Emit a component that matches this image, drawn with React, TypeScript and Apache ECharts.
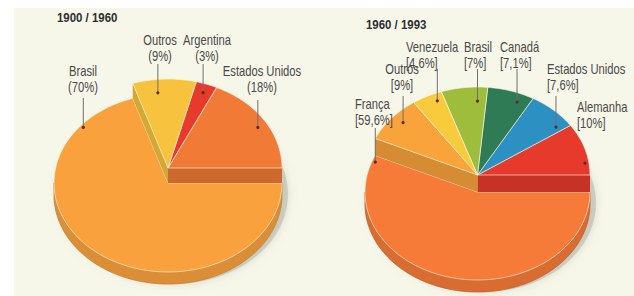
import React, { useEffect, useRef } from 'react';
import * as echarts from 'echarts';

// ---- data ----
const titles = ['1900 / 1960', '1960 / 1993'];

const leftCategories = ['Estados Unidos', 'Argentina', 'Outros', 'Brasil'];
const leftValues = [18, 3, 9, 70];
const leftBase = 'Brasil';

const rightCategories = ['Alemanha', 'Estados Unidos', 'Canadá', 'Brasil', 'Venezuela', 'Outros', 'França'];
const rightValues = [10, 7.6, 7.1, 7, 4.6, 9, 59.6];
const rightBase = 'França';

// ---- styles ----
const leftColors = ['#f07a36', '#e63a2b', '#f7c33e', '#f9a13d'];
const rightColors = ['#e63b2c', '#2c90c3', '#2f7b55', '#9fbd3d', '#f8cb3d', '#f9a33b', '#f67b38'];

// ---- layout (label placement) ----
type LabelPos = { tx: number; ty: number; align: string; line: number | null; ang: number; r: number };
const leftLabelPos: LabelPos[] = [
  { tx: 262, ty: 64, align: 'center', line: 100, ang: 30, r: 0.91 },
  { tx: 207, ty: 33, align: 'center', line: 64, ang: 70, r: 0.9 },
  { tx: 160, ty: 33, align: 'center', line: 64, ang: 96, r: 0.85 },
  { tx: 83, ty: 64, align: 'center', line: 98, ang: 140, r: 0.97 },
];
const rightLabelPos: LabelPos[] = [
  { tx: 577, ty: 100, align: 'left', line: null, ang: 8, r: 0.965 },
  { tx: 547, ty: 62, align: 'left', line: 96, ang: 38, r: 0.885 },
  { tx: 500, ty: 40, align: 'left', line: 69, ang: 67, r: 0.9 },
  { tx: 464, ty: 40, align: 'left', line: 69, ang: 90, r: 0.84 },
  { tx: 406, ty: 40, align: 'left', line: 69, ang: 113, r: 0.914 },
  { tx: 402, ty: 62, align: 'center', line: 96, ang: 138, r: 0.89 },
  { tx: 355, ty: 97, align: 'left', line: 128, ang: 159.5, r: 0.97 },
];

const FONT = "'Liberation Sans', Arial, sans-serif";

function shade(hex: string, f: number) {
  const n = parseInt(hex.slice(1), 16);
  const r = Math.round(((n >> 16) & 255) * f);
  const g = Math.round(((n >> 8) & 255) * f);
  const b = Math.round((n & 255) * f);
  return `rgb(${r},${g},${b})`;
}

type PieCfg = {
  cats: string[]; values: number[]; colors: string[]; base: string; labels: LabelPos[];
  cx: number; cy: number; rx: number; ry: number; lift: number; depth: number;
  fmt: (v: number) => string;
};

function makeRender(p: PieCfg) {
  const total = p.values.reduce((a, b) => a + b, 0);
  const cum = [0];
  p.values.forEach((v) => cum.push(cum[cum.length - 1] + v));
  const n = p.values.length;
  const rad = (d: number) => (d * Math.PI) / 180;
  const pt = (cy: number, d: number, f = 1): number[] => [p.cx + p.rx * f * Math.cos(rad(d)), cy - p.ry * f * Math.sin(rad(d))];
  const arc = (cy: number, a0: number, a1: number) => {
    const pts: number[][] = [];
    const steps = Math.max(2, Math.ceil((a1 - a0) / 1.5));
    for (let k = 0; k <= steps; k++) pts.push(pt(cy, a0 + ((a1 - a0) * k) / steps));
    return pts;
  };
  return (params: any) => {
    const i = params.dataIndex;
    const start = (cum[i] / total) * 360;
    const end = (cum[i + 1] / total) * 360;
    const lifted = p.cats[i] !== p.base;
    const cyT = lifted ? p.cy - p.lift : p.cy;
    const color = p.colors[i];
    const wallColor = shade(color, 0.88);
    const z = lifted ? 5 : 0;
    const children: any[] = [];
    if (!lifted) {
      children.push({
        type: 'ellipse', z2: -5,
        shape: { cx: p.cx + 5, cy: p.cy + p.depth * 0.6 + 4, rx: p.rx + 1, ry: p.ry + 1 },
        style: { fill: 'rgba(170,170,160,0.45)', shadowBlur: 8, shadowColor: 'rgba(150,150,140,0.6)' },
      });
      const a0 = Math.max(start, 180), a1 = Math.min(end, 360);
      if (a1 > a0) {
        const top = arc(cyT, a0, a1);
        const bot = arc(cyT + p.depth, a0, a1).reverse();
        children.push({ type: 'polygon', z2: z, shape: { points: top.concat(bot) }, style: { fill: wallColor, stroke: shade(color, 0.8), lineWidth: 0.8 } });
      }
    }
    const wd = lifted ? p.lift : p.depth;
    const prevLifted = p.cats[(i - 1 + n) % n] !== p.base;
    const nextLifted = p.cats[(i + 1) % n] !== p.base;
    const radialWall = (a: number) => {
      const e = pt(cyT, a);
      return { type: 'polygon', z2: z, shape: { points: [[p.cx, cyT], e, [e[0], e[1] + wd], [p.cx, cyT + wd]] }, style: { fill: shade(color, 0.86) } };
    };
    if (Math.cos(rad(start)) > 0 && prevLifted !== lifted) children.push(radialWall(start));
    if (Math.cos(rad(end)) < 0 && nextLifted !== lifted) children.push(radialWall(end));
    children.push({
      type: 'polygon', z2: z + 1,
      shape: { points: [[p.cx, cyT]].concat(arc(cyT, start, end)) },
      style: { fill: color, stroke: 'rgba(255,250,235,0.75)', lineWidth: 0.8 },
    });
    // label
    const L = p.labels[i];
    const dot = pt(cyT, L.ang, L.r);
    if (L.line !== null) {
      children.push({ type: 'line', z2: 10, shape: { x1: dot[0], y1: L.line, x2: dot[0], y2: dot[1] }, style: { stroke: '#707070', lineWidth: 1 } });
    }
    children.push({ type: 'circle', z2: 11, shape: { cx: dot[0], cy: dot[1], r: 1.6 }, style: { fill: '#6a2a12' } });
    children.push({
      type: 'text', z2: 12, x: L.tx, y: L.ty, scaleX: 0.8,
      style: {
        text: p.cats[i] + '\n' + p.fmt(p.values[i]), x: 0, y: 0,
        align: L.align, verticalAlign: 'top', lineHeight: 16,
        fontSize: 14, fontFamily: FONT, fill: '#4a4a4a',
      },
    });
    return { type: 'group', children };
  };
}

const leftCfg: PieCfg = {
  cats: leftCategories, values: leftValues, colors: leftColors, base: leftBase, labels: leftLabelPos,
  cx: 168, cy: 183, rx: 114, ry: 89, lift: 15, depth: 12,
  fmt: (v) => `(${v}%)`,
};
const rightCfg: PieCfg = {
  cats: rightCategories, values: rightValues, colors: rightColors, base: rightBase, labels: rightLabelPos,
  cx: 477.5, cy: 192, rx: 112.5, ry: 88, lift: 17, depth: 12,
  fmt: (v) => `[${String(v).replace('.', ',')}%]`,
};

export default function App() {
  const ref = useRef<HTMLDivElement>(null);
  useEffect(() => {
    document.body.style.margin = '0';
    const chart = echarts.init(ref.current!, undefined, { renderer: 'svg' });
    chart.setOption({
      animation: false,
      backgroundColor: '#ffffff',
      graphic: [
        { type: 'rect', z: -10, shape: { x: 14, y: 8, width: 620, height: 288 }, style: { fill: '#f6f6e9' } },
        { type: 'text', z: 5, x: 57, y: 11, scaleX: 0.88, style: { text: titles[0], x: 0, y: 0, fontSize: 13, fontWeight: 'bold', fontFamily: FONT, fill: '#2e2e2e', verticalAlign: 'top' } },
        { type: 'text', z: 5, x: 366, y: 18, scaleX: 0.88, style: { text: titles[1], x: 0, y: 0, fontSize: 13, fontWeight: 'bold', fontFamily: FONT, fill: '#2e2e2e', verticalAlign: 'top' } },
      ],
      series: [
        { type: 'custom', coordinateSystem: 'none', silent: true, renderItem: makeRender(leftCfg), data: leftValues },
        { type: 'custom', coordinateSystem: 'none', silent: true, renderItem: makeRender(rightCfg), data: rightValues },
      ],
    });
    return () => chart.dispose();
  }, []);
  return <div ref={ref} style={{ width: 634, height: 296 }} />;
}
